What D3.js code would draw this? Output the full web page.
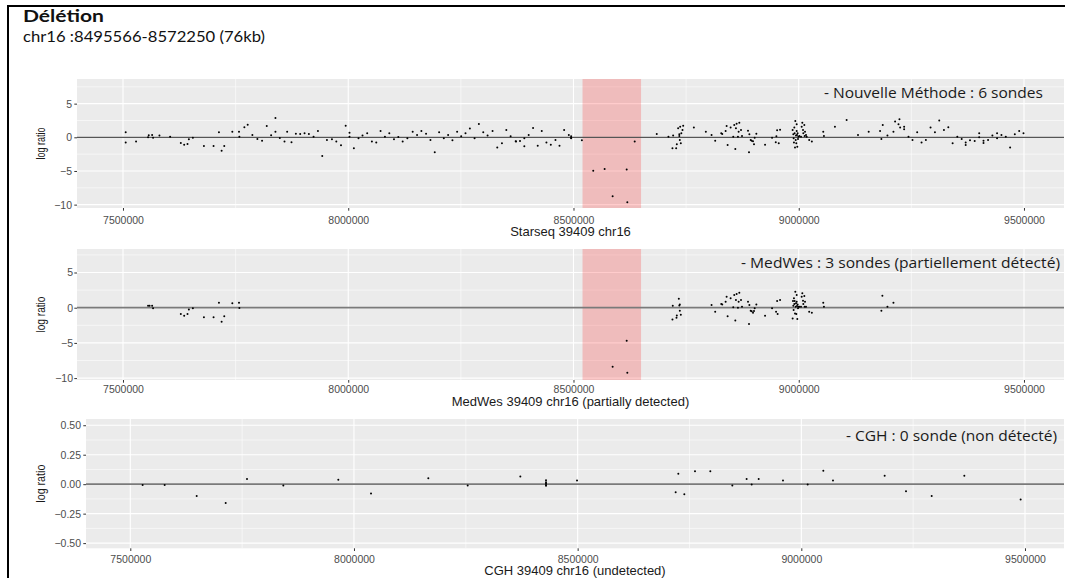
<!DOCTYPE html>
<html><head><meta charset="utf-8">
<script src="https://cdn.jsdelivr.net/npm/d3@7"></script>
<style>body{margin:0;background:#fff} svg{display:block}</style>
</head><body>
<svg id="c" width="1065" height="578"></svg>
<script>
// ---------- data ----------
const starseqPos = [7506000,7506000,7529000,7555700,7557100,7564600,7566800,7580900,7604600,7628400,7635800,7643200,7646200,7655100,7679600,7701100,7713000,7718900,7724800,7742700,
7757500,7758300,7769400,7776800,7787200,7798300,7808700,7819100,7828800,7838400,7838400,7848100,7858500,7864400,7874000,7883700,7893300,7903000,7912600,7923000,7932700,7942300,7952700,7963800,7973500,7983900,7994300,
8002800,8002800,8012500,8022800,8031700,8042100,8052500,8062200,8071800,8081400,8091100,8101500,8111100,8120800,8131200,8143000,8152700,8162300,8172700,8182400,8192000,8201700,8212100,8221700,8231300,8241700,
8250700,8260300,8270000,8280400,8290000,8299700,8309300,8320400,8330800,8341200,8350900,8360500,8371700,8372500,8381300,8390900,8390900,8400600,8410200,8420600,8429500,8439900,8449600,8460000,8468900,8479200,8489600,8494800,8494800,8494800,
8518600,8543800,8569100,8586900,8618100,8619500,8635900,8684800,8710800,8719700,8721200,8727900,8729400,8732300,8734900,8734900,8736000,8736800,8738300,8739400,8742000,8743500,
8767200,8793800,8806500,8814600,8828000,8830200,8837700,8839900,8842100,8848800,8854700,8856900,8859200,8860600,8862100,8865100,8866600,8868100,8871800,8874000,8887400,8889600,8890400,8893300,8895500,8898500,8900700,8902200,8905900,8925200,8940800,8949000,8950400,8952000,8955600,8958600,
8986500,8988000,8988700,8989400,8990200,8990900,8991700,8992400,8993200,8993900,8994600,8995400,8995400,8996100,8996900,8997600,8998400,8999100,9001300,9005000,9006500,9008000,9009500,9010200,9012400,9013200,9013900,9016100,9017600,
9023200,9029100,9054400,9055900,9080300,9106300,9131600,9155300,9180500,9183500,9186500,9196900,9210200,9213900,9221400,9223600,9225100,9234000,9234000,9243600,
9252600,9262900,9272600,9282200,9292600,9302300,9311900,9322300,9332000,9341600,9352000,9361700,9370600,9370600,9380200,9390600,9400600,9400600,9410200,9410200,9420300,9429900,9440300,9440300,9450000,9459600,9469200,9479600,9489300,9498900];
const starseqLogR = [0.74,-0.79,-0.64,0,0.30,0.35,-0.05,0.25,0.10,-0.84,-1.09,-0.99,-0.30,-0.05,-1.29,-1.29,0.74,-1.98,-1.29,0.84,
0.84,0.10,1.49,1.88,0.35,-0.25,-0.50,1.68,0.30,2.87,0.84,-0.10,-0.64,0.84,-0.74,0.54,0.50,0.59,0.50,0.10,0.94,-2.77,-0.40,-0.30,-0.64,-1.19,1.73,
0.69,0.10,-1.63,-0.15,0.25,0.59,-0.64,-0.79,0.94,0.10,0.59,-0.30,0.05,-0.64,-0.15,0.84,0.35,0.94,0.54,-0.40,-2.23,0.74,-0.15,0.35,-0.45,0.84,
0.15,0.59,1.29,-0.15,1.98,0.74,0.25,0.94,-1.53,-0.89,1.09,0.15,-0.59,-0.64,-0.54,-0.15,-1.34,0.35,1.39,-1.24,0.94,-0.79,-1.09,-0.40,-1.24,1.09,0.35,0.15,-0.05,-0.15,
-0.45,-4.95,-4.70,-8.76,-4.80,-9.65,-0.64,0.50,0.10,-1.63,0.25,-1.63,-1.04,1.34,0.20,0.45,-0.40,1.58,-0.89,0.59,1.09,1.73,
1.44,0.84,0.35,-0.50,0.59,0.50,0.94,1.68,-1.14,1.44,0.10,1.83,-1.73,1.34,2.03,0.10,0.84,2.18,1.09,0.20,0.99,-2.23,0.45,-0.40,-0.50,-0.60,-1.04,-0.05,0.54,-1.09,-0.05,-0.74,0.15,1.04,-0.89,1.14,
1.09,0.45,-0.15,-0.79,1.44,0.59,-1.53,2.43,-0.40,0.25,-0.89,1.93,0.94,0.35,-1.39,0.59,-0.25,0.10,0.20,0.10,1.58,2.18,1.09,0.59,1.83,0.20,0.84,0.35,0.10,
-0.40,-0.64,0.84,0.20,1.58,2.57,0.35,0.84,0.94,-0.25,1.83,0.25,0.84,2.33,1.93,2.67,1.44,1.58,1.19,0.10,
-0.40,0.74,-0.79,-0.40,1.44,0.74,2.48,1.09,1.49,-0.89,0.10,-0.25,-0.79,-1.14,-0.45,-0.54,0.59,0.00,-0.50,-0.84,-0.40,0.25,0.59,-0.15,0.35,0.10,-1.53,0.45,0.94,0.59];

const medwesPos = [7555700,7559000,7564600,7566800,7628400,7635800,7643200,7646200,7655100,7679600,7701100,7713000,7718900,7724800,7742700,7757500,7758300,
8586900,8618100,8619500,8719700,8720400,8728600,8729400,8733800,8734900,8736000,8736000,8738300,
8806500,8814600,8828000,8830200,8837700,8839900,8842100,8848800,8854700,8856900,8859200,8860600,8862100,8865100,8866600,8868100,8871800,8874000,8887400,8889600,8890400,8893300,8895500,8898500,8900700,8902200,8905900,8925200,8940800,8949700,8952000,8953100,8958600,
8986500,8987200,8988000,8988700,8989400,8990200,8990900,8991700,8992400,8993200,8993900,8994600,8995400,8995400,8996100,8996900,8997600,8998400,8999100,9001300,9005000,9006500,9008000,9009500,9010200,9012400,9013200,9013900,9016100,
9023200,9029100,9054400,9055900,9183500,9185700,9196900,9210200];
const medwesLogR = [0.28,0.28,0.28,-0.09,-0.90,-1.14,-0.90,-0.24,-0.09,-1.37,-1.37,0.71,-1.99,-1.23,0.62,0.71,-0.05,
-8.39,-4.69,-9.24,-1.66,0.28,-1.42,-1.09,1.28,0.33,0.47,-0.43,-1.00,
0.38,-0.57,0.52,0.47,0.85,1.56,-1.23,1.33,0.05,1.80,-1.80,1.09,1.94,0.00,0.85,2.13,1.09,0.14,0.85,-2.32,0.38,-0.43,-0.52,-0.71,-0.47,-0.09,0.47,-1.14,-0.09,-0.57,0.95,-0.90,1.09,
-1.52,0.95,0.28,-0.33,1.33,0.52,0.95,-0.81,2.27,0.14,0.62,-0.90,1.80,0.85,0.24,-1.61,0.47,-0.09,0.14,0.14,0.14,1.56,2.04,1.00,0.52,1.66,0.14,0.85,0.14,
-0.57,-0.71,0.71,0.14,-0.43,1.71,0.14,0.71];

const cghPos = [7527600,7576800,7648400,7713200,7760900,7842100,7965000,8038100,8166200,8254200,8371900,8429300,8429300,8429300,8429300,8429300,8498600,
8719100,8725100,8738500,8762300,8796600,8845800,8877800,8889000,8904700,8959000,9014200,9049200,9070800,9186300,9234000,9291400,9364400,9490300];
const cghLogR = [-0.006,-0.006,-0.10,-0.16,0.045,-0.011,0.037,-0.079,0.051,-0.011,0.065,0.034,0.017,0.006,-0.006,-0.014,0.031,
-0.068,0.088,-0.085,0.11,0.11,-0.011,0.043,-0.003,0.043,0.031,-0.003,0.113,0.031,0.071,-0.06,-0.10,0.071,-0.13];

const xTicks = [7500000, 8000000, 8500000, 9000000, 9500000];
const xMinorTicks = [7750000, 8250000, 8750000, 9250000];
const logTicks = [5, 0, -5, -10];
const logMinorTicks = [7.5, 2.5, -2.5, -7.5];
const cghTicks = [0.5, 0.25, 0, -0.25, -0.5];
const cghMinorTicks = [0.375, 0.125, -0.125, -0.375];
const deletionRegion = [8520000, 8650000];
const panelTitles = ["Starseq 39409 chr16", "MedWes 39409 chr16 (partially detected)", "CGH 39409 chr16 (undetected)"];
const annotations = ["- Nouvelle Méthode : 6 sondes", "- MedWes : 3 sondes (partiellement détecté)", "- CGH : 0 sonde (non détecté)"];
const yAxisTitle = "log ratio";
const headerTitle = "Délétion";
const headerSubtitle = "chr16 :8495566-8572250 (76kb)";

// ---------- layout ----------
const panels = [
  {pos: starseqPos, val: starseqLogR, left: 77, right: 1064, top: 79, bottom: 208,
   xDom: [7397890, 9588830], yDom: [-10.5, 8.66], yTicks: logTicks, yMinor: logMinorTicks, fmt: d3.format("d"),
   region: true, labelRight: 72, tickBase: 224, titleBase: 236, ann: {x: 824, y: 98, w: 219},
   zero: {c: "#555", w: 1.3}, yLen: 32},
  {pos: medwesPos, val: medwesLogR, left: 77, right: 1064, top: 249, bottom: 380,
   xDom: [7397890, 9588830], yDom: [-10.27, 8.34], yTicks: logTicks, yMinor: logMinorTicks, fmt: d3.format("d"),
   region: true, labelRight: 73, tickBase: 393, titleBase: 406, ann: {x: 741, y: 268, w: 319},
   zero: {c: "#7a7a7a", w: 1.8}, yLen: 36},
  {pos: cghPos, val: cghLogR, left: 86, right: 1064, top: 419, bottom: 548.3,
   xDom: [7400970, 9587200], yDom: [-0.544, 0.553], yTicks: cghTicks, yMinor: cghMinorTicks, fmt: d3.format(".2f"),
   region: false, labelRight: 81, tickBase: 563, titleBase: 575, ann: {x: 846, y: 441, w: 211},
   zero: {c: "#7a7a7a", w: 1.8}, yLen: 38}
];

const svg = d3.select("#c");
svg.append("rect").attr("width", 1065).attr("height", 578).attr("fill", "#fff");

panels.forEach((p, i) => {
  const x = d3.scaleLinear().domain(p.xDom).range([p.left, p.right]);
  const y = d3.scaleLinear().domain(p.yDom).range([p.bottom, p.top]);
  const g = svg.append("g");
  g.append("rect").attr("x", p.left).attr("y", p.top).attr("width", p.right - p.left)
    .attr("height", p.bottom - p.top).attr("fill", "#EBEBEB");
  g.selectAll(".ymin").data(p.yMinor).join("line")
    .attr("x1", p.left).attr("x2", p.right).attr("y1", d => y(d)).attr("y2", d => y(d))
    .attr("stroke", "#fff").attr("stroke-width", 0.55);
  g.selectAll(".xmin").data(xMinorTicks).join("line")
    .attr("y1", p.top).attr("y2", p.bottom).attr("x1", d => x(d)).attr("x2", d => x(d))
    .attr("stroke", "#fff").attr("stroke-width", 0.55);
  g.selectAll(".ymaj").data(p.yTicks).join("line")
    .attr("x1", p.left).attr("x2", p.right).attr("y1", d => y(d)).attr("y2", d => y(d))
    .attr("stroke", "#fff").attr("stroke-width", 1.1);
  g.selectAll(".xmaj").data(xTicks).join("line")
    .attr("y1", p.top).attr("y2", p.bottom).attr("x1", d => x(d)).attr("x2", d => x(d))
    .attr("stroke", "#fff").attr("stroke-width", 1.1);
  if (p.region) {
    g.append("rect").attr("x", x(deletionRegion[0])).attr("y", p.top)
      .attr("width", x(deletionRegion[1]) - x(deletionRegion[0])).attr("height", p.bottom - p.top)
      .attr("fill", "red").attr("fill-opacity", 0.2);
  }
  g.append("line").attr("x1", p.left).attr("x2", p.right).attr("y1", y(0)).attr("y2", y(0))
    .attr("stroke", p.zero.c).attr("stroke-width", p.zero.w);
  g.selectAll(".pt").data(p.pos.map((d, k) => [d, p.val[k]])).join("circle")
    .attr("cx", d => x(d[0])).attr("cy", d => y(d[1])).attr("r", 1.0).attr("fill", "#000");
  const xa = d3.axisBottom(x).tickValues(xTicks).tickSize(2.7).tickPadding(3).tickFormat(d3.format("d"));
  const xg = g.append("g").attr("transform", `translate(0,${p.bottom})`).call(xa);
  xg.select(".domain").remove();
  xg.selectAll("line").attr("stroke", "#333");
  xg.selectAll("text").attr("dy", null).attr("y", p.tickBase - p.bottom)
    .attr("fill", "#4D4D4D").style("font", "10.5px 'Liberation Sans', Arial, sans-serif");
  const ya = d3.axisLeft(y).tickValues(p.yTicks).tickSize(2.7).tickPadding(2).tickFormat(p.fmt);
  const yg = g.append("g").attr("transform", `translate(${p.left},0)`).call(ya);
  yg.select(".domain").remove();
  yg.selectAll("line").attr("stroke", "#333");
  yg.selectAll("text").attr("x", p.labelRight - p.left).attr("fill", "#4D4D4D")
    .style("font", "10.5px 'Liberation Sans', Arial, sans-serif");
  g.append("text").attr("x", (p.left + p.right) / 2).attr("y", p.titleBase)
    .attr("text-anchor", "middle").attr("fill", "#1a1a1a")
    .style("font", "13px 'Liberation Sans', Arial, sans-serif").text(panelTitles[i]);
  g.append("text").attr("transform", `translate(45,${(p.top + p.bottom) / 2}) rotate(-90)`)
    .attr("text-anchor", "middle").attr("fill", "#1a1a1a")
    .attr("textLength", p.yLen).attr("lengthAdjust", "spacingAndGlyphs")
    .style("font", "12.5px 'Liberation Sans', Arial, sans-serif").text(yAxisTitle);
  g.append("text").attr("x", p.ann.x).attr("y", p.ann.y).attr("textLength", p.ann.w)
    .attr("lengthAdjust", "spacingAndGlyphs").attr("fill", "#1a1a1a")
    .style("font", "14px 'Open Sans', sans-serif").text(annotations[i]);
});

svg.append("text").attr("x", 23).attr("y", 22).attr("textLength", 81).attr("lengthAdjust", "spacingAndGlyphs")
  .attr("fill", "#111").style("font", "bold 17px Lato, sans-serif").text(headerTitle);
svg.append("text").attr("x", 23).attr("y", 41.5).attr("textLength", 242).attr("lengthAdjust", "spacingAndGlyphs")
  .attr("fill", "#111").style("font", "16px Lato, sans-serif").text(headerSubtitle);

svg.append("line").attr("x1", 7).attr("x2", 1065).attr("y1", 6).attr("y2", 6).attr("stroke", "#000").attr("stroke-width", 2);
svg.append("line").attr("x1", 8).attr("x2", 8).attr("y1", 5).attr("y2", 578).attr("stroke", "#000").attr("stroke-width", 2);
</script>
</body></html>
